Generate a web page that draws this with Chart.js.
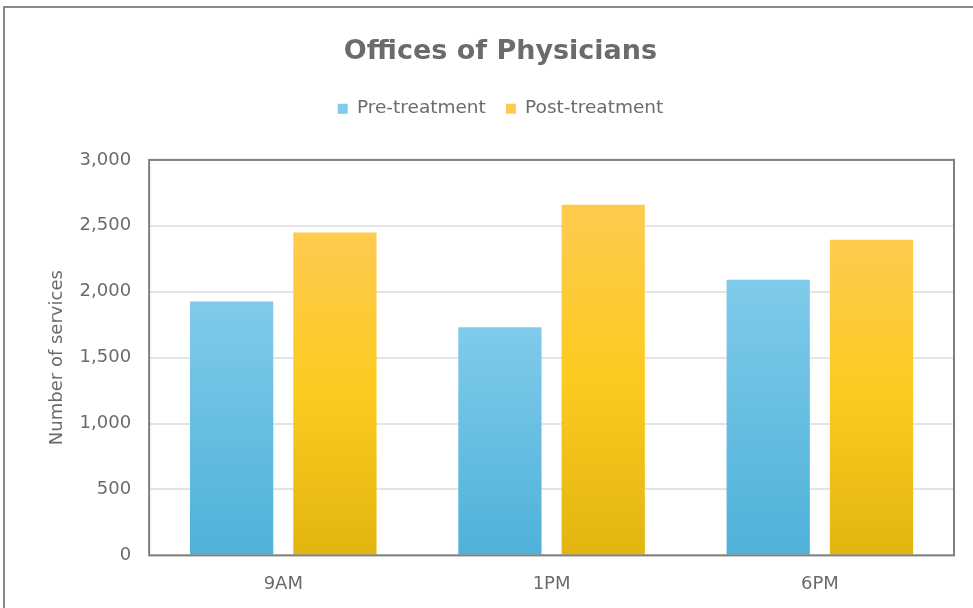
<!DOCTYPE html>
<html lang="en">
<head>
<meta charset="UTF-8">
<title>Offices of Physicians</title>
<script src="https://cdn.jsdelivr.net/npm/chart.js"></script>
<style>
    body {
        margin: 0;
        background: #ffffff;
        font-family: 'DejaVu Sans', sans-serif;
    }
    .frame {
        position: absolute;
        left: 3px;
        top: 6px;
        width: 1000px;
        height: 700px;
        border: 2px solid #8a8a8a;
    }
    .wrap {
        position: absolute;
        left: 0;
        top: 0;
        width: 973px;
        height: 608px;
    }
</style>
</head>
<body>
<div class="frame"></div>
<div class="wrap"><canvas id="myChart"></canvas></div>
<script>
    // data
    const categories = ['9AM', '1PM', '6PM'];
    const preTreatment = [1925, 1730, 2090];
    const postTreatment = [2450, 2660, 2395];
    const yTicks = [0, 500, 1000, 1500, 2000, 2500, 3000];

    const textColor = '#6b6b6b';
    const fontFamily = "'DejaVu Sans', sans-serif";

    // gradient for each bar, from its top to the zero line
    function barGradient(stops) {
        return function (context) {
            const chart = context.chart;
            if (!chart.chartArea || context.raw === undefined) {
                return stops[stops.length - 1][1];
            }
            const y = chart.scales.y;
            const top = y.getPixelForValue(context.raw);
            const base = y.getPixelForValue(0);
            const g = chart.ctx.createLinearGradient(0, top, 0, base);
            stops.forEach(s => g.addColorStop(s[0], s[1]));
            return g;
        };
    }

    const plotBorder = {
        id: 'plotBorder',
        afterDatasetsDraw(chart) {
            const a = chart.chartArea;
            const ctx = chart.ctx;
            ctx.save();
            ctx.strokeStyle = '#7f7f7f';
            ctx.lineWidth = 2;
            ctx.strokeRect(a.left, a.top, a.right - a.left, a.bottom - a.top);
            ctx.restore();
        }
    };

    // some room under the legend
    const legendGap = {
        id: 'legendGap',
        beforeInit(chart) {
            const fit = chart.legend.fit;
            chart.legend.fit = function () {
                fit.bind(chart.legend)();
                this.height += 32;
            };
        }
    };

    const myChart = new Chart(document.getElementById('myChart'), {
        type: 'bar',
        data: {
            labels: categories,
            datasets: [{
                label: 'Pre-treatment',
                data: preTreatment,
                backgroundColor: barGradient([[0, '#7fcbea'], [1, '#4fb1d9']]),
                borderWidth: 0,
                categoryPercentage: 0.77,
                barPercentage: 0.806
            }, {
                label: 'Post-treatment',
                data: postTreatment,
                backgroundColor: barGradient([[0, '#fecb50'], [0.5, '#fdca1f'], [1, '#e2b50f']]),
                borderWidth: 0,
                categoryPercentage: 0.77,
                barPercentage: 0.806
            }]
        },
        options: {
            responsive: true,
            maintainAspectRatio: false,
            animation: false,
            layout: {
                padding: { left: 47, right: 19, top: 36, bottom: 3 }
            },
            plugins: {
                title: {
                    display: true,
                    text: 'Offices of Physicians',
                    color: textColor,
                    font: { family: fontFamily, size: 27, weight: 'bold' },
                    padding: { top: 0, bottom: 11 }
                },
                legend: {
                    labels: {
                        color: textColor,
                        font: { family: fontFamily, size: 18.5 },
                        usePointStyle: true,
                        pointStyle: 'rect',
                        boxWidth: 10,
                        boxHeight: 10,
                        padding: 20
                    }
                },
                tooltip: { enabled: false }
            },
            scales: {
                x: {
                    grid: { display: false },
                    border: { display: false },
                    ticks: {
                        color: textColor,
                        font: { family: fontFamily, size: 18 },
                        padding: 10
                    }
                },
                y: {
                    min: 0,
                    max: 3000,
                    afterBuildTicks: axis => {
                        axis.ticks = yTicks.map(v => ({ value: v }));
                    },
                    grid: { color: '#e4e4e4', lineWidth: 2, drawTicks: false },
                    border: { display: false },
                    ticks: {
                        color: textColor,
                        font: { family: fontFamily, size: 18 },
                        padding: 18,
                        callback: v => v.toLocaleString('en-US')
                    },
                    title: {
                        display: true,
                        text: 'Number of services',
                        color: textColor,
                        font: { family: fontFamily, size: 18 },
                        padding: { top: 0, bottom: -7 }
                    }
                }
            }
        },
        plugins: [plotBorder, legendGap]
    });
</script>
</body>
</html>
